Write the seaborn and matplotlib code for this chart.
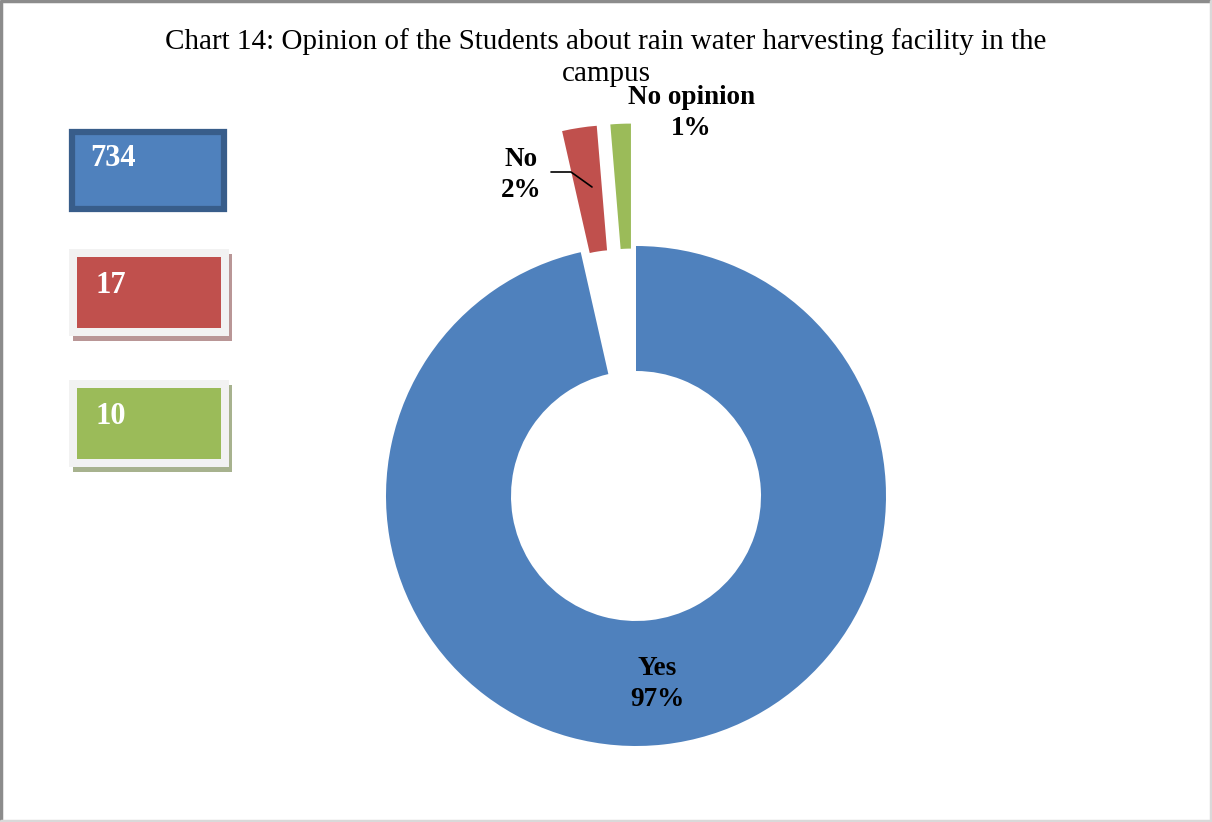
import numpy as np
import matplotlib
matplotlib.use("Agg")
import matplotlib.pyplot as plt
import seaborn as sns
from matplotlib.patches import Rectangle
from matplotlib.lines import Line2D

# data
categories = ["Yes", "No", "No opinion"]
counts = [734, 17, 10]
percent_labels = ["97%", "2%", "1%"]
explode = [0.0, 0.49, 0.49]

sns.set_theme(style="white")
plt.rcParams["font.family"] = ["Liberation Serif", "DejaVu Serif"]
plt.rcParams["text.color"] = "black"
colors = ["#4F81BD", "#C0504D", "#9BBB59"]

W, H = 1212, 822
fig = plt.figure(figsize=(W / 100, H / 100), dpi=100)

# pie axes: center at (636, 496) px, radius 250 px, 2 units each side
cx, cy, R = 636, 496, 250
L = 2.0
side = 2 * L * R
ax = fig.add_axes([(cx - side / 2) / W, (H - cy - side / 2) / H, side / W, side / H])

ax.pie(counts, colors=colors, startangle=90, counterclock=False,
       explode=explode, radius=1.0,
       wedgeprops=dict(width=0.5, edgecolor="none"))
ax.set_xlim(-L, L)
ax.set_ylim(-L, L)
ax.set_aspect("equal")
ax.axis("off")

lab_kw = dict(ha="center", va="center", fontsize=19.5, fontweight="bold",
              color="black", linespacing=1.3)
ax.text(0.084, -0.752, f"{categories[0]}\n{percent_labels[0]}", **lab_kw)
ax.text(-0.46, 1.284, f"{categories[1]}\n{percent_labels[1]}", **lab_kw)
ax.text(0.22, 1.532, f"{categories[2]}\n{percent_labels[2]}", **lab_kw)
ax.plot([-0.34, -0.26, -0.176], [1.296, 1.296, 1.236], color="black", lw=1.2)

# title
fig.text(606 / W, 1 - 58 / H,
         "Chart 14: Opinion of the Students about rain water harvesting facility in the\ncampus",
         ha="center", va="center", fontsize=21, linespacing=1.3, color="black")


def px_rect(x0, y0, x1, y1, **kw):
    r = Rectangle((x0 / W, 1 - y1 / H), (x1 - x0) / W, (y1 - y0) / H,
                  transform=fig.transFigure, **kw)
    fig.add_artist(r)


# value boxes on the left
px_rect(72, 132, 224, 209, facecolor=colors[0], edgecolor="#385D8A", lw=4.5)
fig.text(90 / W, 1 - 158 / H, str(counts[0]), ha="left", va="center",
         fontsize=22, fontweight="bold", color="white")

shadows = ["#B99696", "#A7B28E"]
for i, top in enumerate([249, 380]):
    px_rect(73, top + 5, 232, top + 92, facecolor=shadows[i], edgecolor="none")
    px_rect(69, top, 229, top + 87, facecolor="#F2F2F2", edgecolor="none")
    px_rect(77, top + 8, 221, top + 79, facecolor=colors[i + 1], edgecolor="none")
    fig.text(96 / W, 1 - (top + 36) / H, str(counts[i + 1]), ha="left", va="center",
             fontsize=22, fontweight="bold", color="white")

# frame around the chart: darker on left/top, lighter on right/bottom
fig.add_artist(Line2D([0.001, 0.001, 0.999], [0, 0.999, 0.999],
                      transform=fig.transFigure, color="#8C8C8C", lw=2.5))
fig.add_artist(Line2D([0.999, 0.999, 0.001], [0.999, 0.001, 0.001],
                      transform=fig.transFigure, color="#D9D9D9", lw=2.5))

fig.savefig("out.png", dpi=100)
